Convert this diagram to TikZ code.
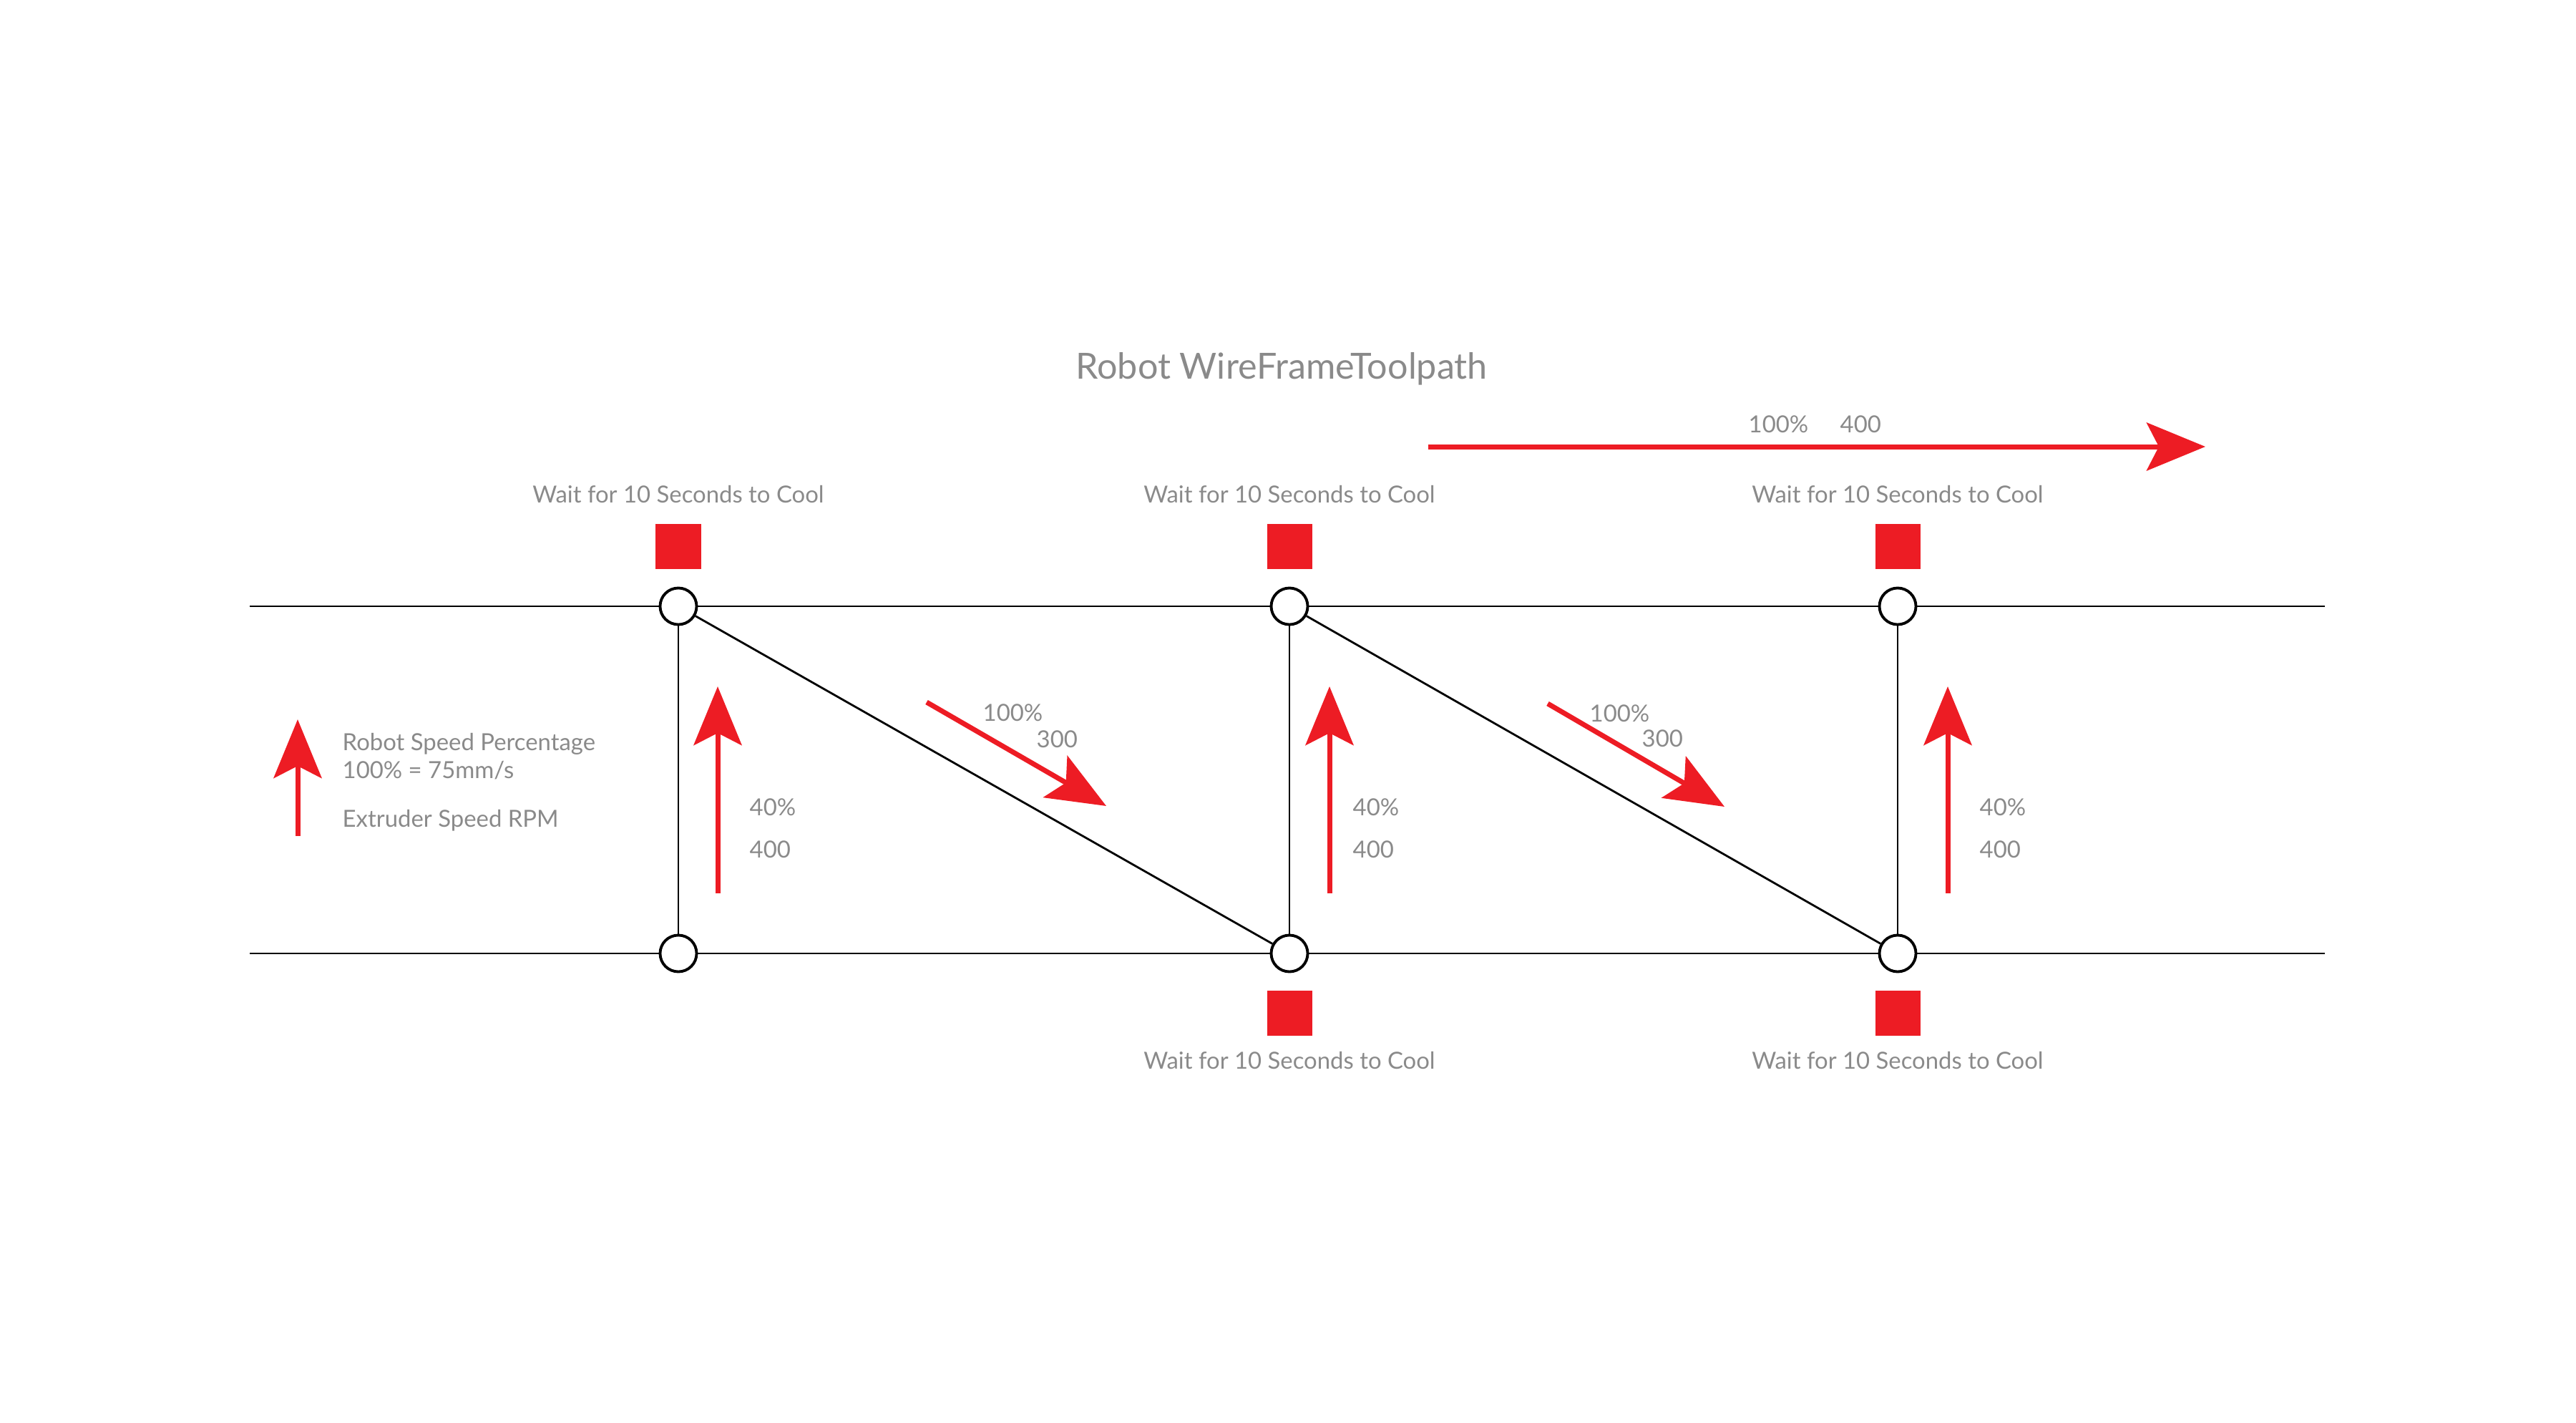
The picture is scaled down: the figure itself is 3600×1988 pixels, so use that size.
\documentclass[tikz,border=0pt]{standalone}
\usepackage{fontspec}
\setmainfont{Lato}
\usetikzlibrary{arrows.meta, positioning}
\definecolor{toolred}{HTML}{ED1C24}
\definecolor{labelgray}{HTML}{8A8A8A}

\begin{document}
\begin{tikzpicture}[
            x=0.01cm, y=-0.01cm,
            every node/.style={font=\fontsize{9.35}{11}\selectfont, text=labelgray},
            joint/.style={
                    draw=black,
                    circle,
                    line width=1.1pt,
                    fill=white,
                    minimum size=0.51cm,
                    inner sep=0pt
                },
            coolbox/.style={
                    fill=toolred,
                    minimum size=0.63cm,
                    inner sep=0pt
                },
            note/.style={
                    inner sep=0pt
                },
            wire/.style={
                    black,
                    line width=0.8pt
                },
            speed/.style={
                    -{Stealth[length=0.82cm,width=0.67cm,inset=0.17cm]},
                    toolred,
                    line width=0.07cm
                }
        ]

        \useasboundingbox (0,0) rectangle (3600,1988);

        \node[note, font=\fontsize{14.3}{17}\selectfont, anchor=base] (title) at (1791,529)
        {Robot WireFrameToolpath};

        \node[joint] (t1) at (948,847) {};
        \node[joint] (t2) at (1802,847) {};
        \node[joint] (t3) at (2652,847) {};
        \node[joint] (b1) at (948,1332) {};
        \node[joint] (b2) at (1802,1332) {};
        \node[joint] (b3) at (2652,1332) {};

        \coordinate (tl) at (349,847);
        \coordinate (tr) at (3249,847);
        \coordinate (bl) at (349,1332);
        \coordinate (br) at (3249,1332);

        \node[coolbox, above=0.24cm of t1] (c1) {};
        \node[coolbox, above=0.24cm of t2] (c2) {};
        \node[coolbox, above=0.24cm of t3] (c3) {};
        \node[coolbox, below=0.24cm of b2] (c4) {};
        \node[coolbox, below=0.24cm of b3] (c5) {};

        \node[note, above=0.275cm of c1] (w1) {Wait for 10 Seconds to Cool};
        \node[note, above=0.275cm of c2] (w2) {Wait for 10 Seconds to Cool};
        \node[note, above=0.275cm of c3] (w3) {Wait for 10 Seconds to Cool};
        \node[note, below=0.21cm of c4] (w4) {Wait for 10 Seconds to Cool};
        \node[note, below=0.21cm of c5] (w5) {Wait for 10 Seconds to Cool};

        \draw[wire] (tl) -- (t1);
        \draw[wire] (t1) -- (t2);
        \draw[wire] (t2) -- (t3);
        \draw[wire] (t3) -- (tr);
        \draw[wire] (bl) -- (b1);
        \draw[wire] (b1) -- (b2);
        \draw[wire] (b2) -- (b3);
        \draw[wire] (b3) -- (br);

        \draw[wire] (t1) -- (b1);
        \draw[wire] (t2) -- (b2);
        \draw[wire] (t3) -- (b3);
        \draw[wire] (t1) -- (b2);
        \draw[wire] (t2) -- (b3);

        % legend
        \coordinate (ls) at (416,1168);
        \coordinate (le) at (416,1005);
        \draw[speed] (ls) -- (le);
        \node[note, anchor=base west] (l1) at (478,1048) {Robot Speed Percentage};
        \node[note, anchor=base west] (l2) at (478,1087) {100\% = 75mm/s};
        \node[note, anchor=base west] (l3) at (478,1155) {Extruder Speed RPM};

        % vertical moves
        \coordinate (u1s) at (1003,1248);
        \coordinate (u1e) at (1003,959);
        \coordinate (u2s) at (1858,1248);
        \coordinate (u2e) at (1858,959);
        \coordinate (u3s) at (2722,1248);
        \coordinate (u3e) at (2722,959);
        \draw[speed] (u1s) -- (u1e);
        \draw[speed] (u2s) -- (u2e);
        \draw[speed] (u3s) -- (u3e);
        \node[note, anchor=base west] (p1) at (1047,1139) {40\%};
        \node[note, anchor=base west] (r1) at (1047,1198) {400};
        \node[note, anchor=base west] (p2) at (1890,1139) {40\%};
        \node[note, anchor=base west] (r2) at (1890,1198) {400};
        \node[note, anchor=base west] (p3) at (2766,1139) {40\%};
        \node[note, anchor=base west] (r3) at (2766,1198) {400};

        % diagonal moves
        \coordinate (d1s) at (1295,981);
        \coordinate (d1e) at (1546,1126);
        \coordinate (d2s) at (2163,983);
        \coordinate (d2e) at (2410,1127);
        \draw[speed] (d1s) -- (d1e);
        \draw[speed] (d2s) -- (d2e);
        \node[note, anchor=base west] (q1) at (1373,1007) {100\%};
        \node[note, anchor=base west] (s1) at (1448,1044) {300};
        \node[note, anchor=base west] (q2) at (2221,1008) {100\%};
        \node[note, anchor=base west] (s2) at (2294,1043) {300};

        % top move
        \coordinate (hs) at (1996,624);
        \coordinate (he) at (3082,624);
        \draw[speed] (hs) -- (he);
        \node[note, anchor=base west] (hq) at (2443,604) {100\%};
        \node[note, anchor=base west] (hr) at (2571,604) {400};

    \end{tikzpicture}
\end{document}
